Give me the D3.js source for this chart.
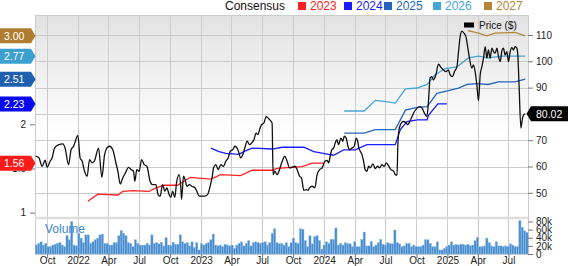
<!DOCTYPE html>
<html>
<head>
<meta charset="utf-8">
<script src="https://cdnjs.cloudflare.com/ajax/libs/d3/7.8.5/d3.min.js"></script>
<style>
  body { margin: 0; background: #fff; }
  svg text { font-family: "Liberation Sans", Arial, sans-serif; }
  .axis path.domain { display: none; }
  .axis line { stroke: #777; }
  .axis text { fill: #222; font-size: 10px; }
</style>
</head>
<body>
<div id="chart"></div>
<script>
// price, [decimal year, $]
var priceData = [
  [2021.654,63.9],[2021.681,63.3],[2021.707,60.1],[2021.732,62.4],[2021.748,59.7],[2021.772,62.0],
  [2021.789,63.3],[2021.808,67.0],[2021.843,68.3],[2021.876,68.6],[2021.894,67.0],[2021.922,60.7],
  [2021.943,66.4],[2021.963,67.7],[2021.998,71.8],[2022.016,63.3],[2022.033,62.0],[2022.052,58.2],
  [2022.073,56.3],[2022.093,62.6],[2022.114,61.4],[2022.133,62.2],[2022.166,67.0],[2022.193,55.9],
  [2022.215,64.5],[2022.233,67.0],[2022.255,67.7],[2022.282,66.4],[2022.304,62.0],[2022.323,58.2],
  [2022.342,53.4],[2022.363,55.7],[2022.385,57.6],[2022.410,59.7],[2022.431,58.8],[2022.450,58.2],
  [2022.461,54.4],[2022.477,58.8],[2022.496,58.2],[2022.516,62.6],[2022.537,60.7],[2022.559,60.1],
  [2022.585,54.4],[2022.605,53.1],[2022.632,53.1],[2022.650,49.3],[2022.667,48.7],[2022.686,53.1],
  [2022.705,50.6],[2022.721,51.9],[2022.740,49.3],[2022.754,48.3],[2022.768,50.6],[2022.786,48.3],
  [2022.800,53.8],[2022.821,56.9],[2022.835,51.9],[2022.841,47.5],[2022.857,56.3],[2022.870,55.0],
  [2022.884,52.5],[2022.903,53.1],[2022.924,52.5],[2022.949,51.9],[2022.965,50.6],[2022.984,48.7],
  [2023.003,48.7],[2023.030,48.7],[2023.052,49.3],[2023.073,52.5],[2023.093,56.9],[2023.101,59.5],
  [2023.120,60.7],[2023.138,58.8],[2023.160,60.7],[2023.182,60.1],[2023.201,62.0],[2023.220,63.3],
  [2023.237,65.8],[2023.258,66.4],[2023.274,67.7],[2023.293,67.0],[2023.307,65.2],[2023.320,63.3],
  [2023.339,64.5],[2023.355,67.0],[2023.374,69.6],[2023.394,68.3],[2023.410,68.9],[2023.429,70.2],
  [2023.447,72.7],[2023.463,72.1],[2023.475,74.0],[2023.491,75.9],[2023.510,76.5],[2023.529,79.0],
  [2023.545,78.4],[2023.564,77.4],[2023.577,76.5],[2023.585,56.9],[2023.599,58.2],[2023.618,56.9],
  [2023.637,58.8],[2023.659,62.0],[2023.681,63.9],[2023.699,62.0],[2023.719,59.5],[2023.740,59.7],
  [2023.762,60.1],[2023.781,58.8],[2023.800,56.3],[2023.816,55.7],[2023.835,50.9],[2023.854,51.2],
  [2023.870,50.9],[2023.881,51.9],[2023.903,52.5],[2023.924,51.9],[2023.943,56.9],[2023.963,58.8],
  [2023.984,59.5],[2024.006,62.0],[2024.024,62.3],[2024.037,61.4],[2024.049,63.9],[2024.063,66.4],
  [2024.077,67.0],[2024.090,68.9],[2024.103,70.2],[2024.117,68.3],[2024.136,70.8],[2024.152,69.6],
  [2024.163,71.5],[2024.179,70.8],[2024.193,67.7],[2024.207,66.4],[2024.225,67.0],[2024.244,67.7],
  [2024.260,70.8],[2024.272,69.6],[2024.282,67.0],[2024.293,65.8],[2024.307,64.5],[2024.320,62.0],
  [2024.333,58.8],[2024.347,58.2],[2024.361,60.1],[2024.374,59.5],[2024.396,61.0],[2024.415,59.2],
  [2024.434,60.1],[2024.450,59.5],[2024.469,60.7],[2024.488,60.1],[2024.504,61.4],[2024.524,60.1],
  [2024.542,58.8],[2024.564,58.2],[2024.577,56.9],[2024.591,56.7],[2024.597,67.0],[2024.605,73.3],
  [2024.618,75.9],[2024.640,77.1],[2024.659,76.9],[2024.678,75.9],[2024.694,77.1],[2024.713,79.0],
  [2024.732,80.9],[2024.754,82.2],[2024.776,82.8],[2024.794,82.2],[2024.813,80.3],[2024.833,79.0],
  [2024.846,84.7],[2024.859,93.6],[2024.873,94.2],[2024.886,92.9],[2024.906,94.8],[2024.927,98.9],
  [2024.949,97.6],[2024.968,96.7],[2024.987,96.1],[2025.008,96.7],[2025.022,94.8],[2025.041,94.2],
  [2025.057,96.1],[2025.077,98.0],[2025.090,103.7],[2025.103,109.4],[2025.117,111.5],[2025.136,110.6],
  [2025.150,109.4],[2025.166,105.0],[2025.179,101.2],[2025.198,97.4],[2025.211,98.6],[2025.225,96.1],
  [2025.239,91.0],[2025.252,85.0],[2025.266,94.8],[2025.280,98.0],[2025.293,101.2],[2025.307,105.6],
  [2025.320,101.2],[2025.333,104.3],[2025.347,101.2],[2025.361,105.0],[2025.374,103.7],[2025.388,103.1],
  [2025.402,105.0],[2025.415,101.8],[2025.429,99.9],[2025.442,103.9],[2025.455,105.0],[2025.469,102.4],
  [2025.483,103.7],[2025.496,99.9],[2025.510,103.7],[2025.524,105.2],[2025.537,104.3],[2025.550,105.6],
  [2025.564,105.0],[2025.572,102.4],[2025.583,89.8],[2025.597,74.6],[2025.610,78.4],[2025.621,79.7],
  [2025.632,80.02]
];

// consensus EPS estimates by fiscal year
var eps2023 = [[2022.079,1.13],[2022.160,1.21],[2022.323,1.20],[2022.363,1.24],[2022.445,1.25],[2022.577,1.24],
  [2022.632,1.28],[2022.699,1.31],[2022.808,1.31],[2022.911,1.40],[2023.079,1.38],[2023.160,1.43],[2023.320,1.42],
  [2023.415,1.48],[2023.577,1.48],[2023.618,1.50],[2023.821,1.52],[2023.903,1.56],[2023.998,1.56]];
var eps2024 = [[2023.079,1.73],[2023.146,1.69],[2023.201,1.67],[2023.307,1.66],[2023.347,1.69],[2023.415,1.73],
  [2023.577,1.72],[2023.659,1.74],[2023.835,1.74],[2023.916,1.69],[2024.038,1.66],[2024.077,1.65],[2024.158,1.71],
  [2024.252,1.71],[2024.347,1.77],[2024.429,1.77],[2024.577,1.77],[2024.618,1.94],[2024.672,2.03],[2024.754,2.05],
  [2024.835,2.05],[2024.846,2.10],[2024.922,2.23],[2024.995,2.23]];
var eps2025 = [[2024.163,1.90],[2024.325,1.90],[2024.415,1.94],[2024.577,1.94],[2024.659,2.16],[2024.754,2.19],
  [2024.835,2.20],[2024.914,2.35],[2025.008,2.38],[2025.090,2.41],[2025.158,2.45],[2025.239,2.46],[2025.329,2.45],
  [2025.415,2.48],[2025.550,2.48],[2025.632,2.51]];
var eps2026 = [[2024.163,2.15],[2024.325,2.15],[2024.415,2.27],[2024.488,2.26],[2024.577,2.24],[2024.659,2.40],
  [2024.754,2.41],[2024.835,2.45],[2024.900,2.56],[2024.981,2.63],[2025.077,2.65],[2025.171,2.75],[2025.252,2.77],
  [2025.333,2.75],[2025.442,2.77],[2025.632,2.77]];
var eps2027 = [[2025.166,3.06],[2025.252,3.03],[2025.320,3.00],[2025.388,3.03],[2025.550,3.04],[2025.632,3.00]];

var seriesYears = ["2023", "2024", "2025", "2026", "2027"];
var seriesColors = ["#ff2020", "#1a1aff", "#2565c0", "#45a5d5", "#b5863a"];
var flagColors = ["#ff1a1a", "#0808f0", "#1f5fb0", "#3aa0d0", "#b07d30"];
var flagValues = [1.56, 2.23, 2.51, 2.77, 3.00];
var lastPrice = 80.02;

// weekly volume, thousands of shares
var volumeStart = new Date(2021, 7, 30);
var volumes = [
  22,26,30,22,26,18,18,22,24,26,28,22,18,
  45,35,80,22,20,51,39,28,47,47,26,
  30,35,39,47,49,26,26,22,
  22,28,28,45,58,51,45,28,26,18,35,26,22,
  22,22,26,22,47,26,28,25,29,20,40,22,21,
  29,24,24,47,30,26,28,20,30,16,28,
  10,26,22,26,28,35,49,22,20,22,18,24,22,
  20,22,14,22,26,30,20,26,33,20,28,30,28,26,
  28,30,22,28,51,62,28,25,26,22,28,18,
  28,39,28,26,62,61,33,18,45,25,43,45,33,12,22,30,26,36,36,64,22,26,22,28,26,25,18,
  30,18,18,
  36,54,20,20,31,18,22,28,36,24,22,28,26,25,59,28,25,18,20,26,26,18,
  22,18,18,18,22,35,35,26,18,18,30,10,10,14,18,22,
  30,22,24,22,24,24,22,24,20,22,33,41,18,18,20,39,28,20,18,30,20,20,18,20,18,
  25,22,18,18,82,66,57,53
];

var priceTicks = [50, 60, 70, 80, 90, 100, 110];
var epsTicks = [1, 1.5, 2, 2.5, 3];
var volumeTicks = [0, 20, 40, 60, 80];

function yearToDate(t) {
    var y = Math.floor(t);
    var a = new Date(y, 0, 1), b = new Date(y + 1, 0, 1);
    return new Date(a.getTime() + (t - y) * (b - a));
}

var W = 568, H = 266;
var plot = { left: 35, right: 528, top: 15, priceBottom: 217, volTop: 217, bottom: 254 };

var svg = d3.select("#chart").append("svg")
    .attr("width", W)
    .attr("height", H);

var x = d3.scaleTime()
    .domain([new Date(2021, 7, 26), new Date(2025, 7, 28)])
    .range([plot.left, plot.right]);
var yPrice = d3.scaleLinear().domain([40.8, 117.6]).range([plot.priceBottom, plot.top]);
var yEps = d3.scaleLinear().domain([0.951, 3.236]).range([plot.priceBottom, plot.top]);
var yVol = d3.scaleLinear().domain([0, 91]).range([plot.bottom, plot.volTop]);

// background gradient
var defs = svg.append("defs");
var grad = defs.append("linearGradient").attr("id", "bg").attr("x1", 0).attr("y1", 0).attr("x2", 0).attr("y2", 1);
grad.append("stop").attr("offset", "0%").attr("stop-color", "#e2e2e2");
grad.append("stop").attr("offset", "60%").attr("stop-color", "#ffffff");
defs.append("clipPath").attr("id", "clip")
    .append("rect")
    .attr("x", plot.left).attr("y", plot.top)
    .attr("width", plot.right - plot.left).attr("height", plot.priceBottom - plot.top);

svg.append("rect")
    .attr("x", plot.left).attr("y", plot.top)
    .attr("width", plot.right - plot.left).attr("height", plot.priceBottom - plot.top)
    .attr("fill", "url(#bg)");

// grid
var monthTicks = x.ticks(d3.timeMonth.every(3));
svg.append("g").selectAll("line").data(monthTicks).enter().append("line")
    .attr("x1", function(d) { return Math.round(x(d)) + 0.5; })
    .attr("x2", function(d) { return Math.round(x(d)) + 0.5; })
    .attr("y1", plot.top).attr("y2", plot.bottom)
    .attr("stroke", "#cccccc");
svg.append("g").selectAll("line").data(priceTicks).enter().append("line")
    .attr("x1", plot.left).attr("x2", plot.right)
    .attr("y1", function(d) { return Math.round(yPrice(d)) + 0.5; })
    .attr("y2", function(d) { return Math.round(yPrice(d)) + 0.5; })
    .attr("stroke", "#cccccc");

svg.append("rect")
    .attr("x", plot.left + 0.5).attr("y", plot.top + 0.5)
    .attr("width", plot.right - plot.left).attr("height", plot.bottom - plot.top)
    .attr("fill", "none").attr("stroke", "#cccccc");
svg.append("line")
    .attr("x1", plot.left).attr("x2", plot.right)
    .attr("y1", plot.volTop + 1).attr("y2", plot.volTop + 1)
    .attr("stroke", "#dddddd").attr("stroke-width", 2.5);

// volume bars
svg.append("g").selectAll("rect").data(volumes).enter().append("rect")
    .attr("x", function(d, i) { return x(d3.timeDay.offset(volumeStart, i * 7)) - 1.1; })
    .attr("width", 2.2)
    .attr("y", function(d) { return yVol(d); })
    .attr("height", function(d) { return plot.bottom - yVol(d); })
    .attr("fill", "#4a8dcf")
    .attr("stroke", "#8fbde6")
    .attr("stroke-width", 0.4);

svg.append("text")
    .attr("x", 45).attr("y", 233)
    .attr("fill", "#3a87c8")
    .style("font-size", "12px")
    .text("Volume");

// consensus lines
var epsLine = d3.line()
    .x(function(d) { return x(yearToDate(d[0])); })
    .y(function(d) { return yEps(d[1]); });
var epsSeries = [eps2023, eps2024, eps2025, eps2026, eps2027];
var lines = svg.append("g").attr("clip-path", "url(#clip)");
epsSeries.forEach(function(s, i) {
    lines.append("path")
        .attr("d", epsLine(s))
        .attr("fill", "none")
        .attr("stroke", seriesColors[i])
        .attr("stroke-width", 1.3);
});

// price line
var priceLine = d3.line()
    .curve(d3.curveMonotoneX)
    .x(function(d) { return x(yearToDate(d[0])); })
    .y(function(d) { return yPrice(d[1]); });
lines.append("path")
    .attr("d", priceLine(priceData))
    .attr("fill", "none")
    .attr("stroke", "#111")
    .attr("stroke-width", 1.3);

// axes
var xAxis = d3.axisBottom(x)
    .tickValues(monthTicks)
    .tickSize(4)
    .tickFormat(function(d) { return d.getMonth() === 0 ? d3.timeFormat("%Y")(d) : d3.timeFormat("%b")(d); });
var gx = svg.append("g").attr("class", "axis")
    .attr("transform", "translate(0," + plot.bottom + ")")
    .call(xAxis);
gx.selectAll("text").attr("y", 3);

// labels sitting under a flag are hidden in the original, so leave them blank
svg.append("g").attr("class", "axis")
    .attr("transform", "translate(" + plot.right + ",0)")
    .call(d3.axisRight(yPrice).tickValues(priceTicks).tickSize(5).tickPadding(3)
        .tickFormat(function(d) { return d === 80 ? "" : d; }));

svg.append("g").attr("class", "axis")
    .attr("transform", "translate(" + plot.right + ",0)")
    .call(d3.axisRight(yVol).tickValues(volumeTicks).tickSize(5).tickPadding(3)
        .tickFormat(function(d) { return d === 0 ? "0" : d + "k"; }));

svg.append("g").attr("class", "axis")
    .attr("transform", "translate(" + plot.left + ",0)")
    .call(d3.axisLeft(yEps).tickValues(epsTicks).tickSize(5).tickPadding(4)
        .tickFormat(function(d) { return d > 2.2 ? "" : d3.format("~g")(d); }));

// consensus flags on the left
var flags = svg.append("g");
flagValues.forEach(function(v, i) {
    var y = yEps(v);
    flags.append("path")
        .attr("d", "M0," + (y - 7.5) + "H31L35.5," + y + "L31," + (y + 7.5) + "H0Z")
        .attr("fill", flagColors[i]);
    flags.append("text")
        .attr("x", 4).attr("y", y).attr("dy", "0.36em")
        .attr("fill", "#fff")
        .style("font-size", "10.5px")
        .text(d3.format(".2f")(v));
});

// last price flag on the right
var py = yPrice(lastPrice);
svg.append("path")
    .attr("d", "M526.5," + py + "L531," + (py - 7.5) + "H568V" + (py + 7.5) + "H531Z")
    .attr("fill", "#000");
svg.append("text")
    .attr("x", 536).attr("y", py).attr("dy", "0.36em")
    .attr("fill", "#fff")
    .style("font-size", "10.5px")
    .text(d3.format(".2f")(lastPrice));

// price legend
svg.append("rect").attr("x", 464).attr("y", 22.5).attr("width", 10).attr("height", 5).attr("fill", "#000");
svg.append("text").attr("x", 479).attr("y", 29).attr("fill", "#111").style("font-size", "10px").text("Price ($)");

// consensus legend
var legend = svg.append("g").style("font-size", "12px");
legend.append("text").attr("x", 225).attr("y", 10).attr("fill", "#111").text("Consensus");
var legendX = [298, 344, 384, 433, 484];
seriesYears.forEach(function(yr, i) {
    legend.append("rect")
        .attr("x", legendX[i]).attr("y", 2)
        .attr("width", 8).attr("height", 8)
        .attr("fill", seriesColors[i]);
    legend.append("text")
        .attr("x", legendX[i] + 12).attr("y", 10)
        .attr("fill", seriesColors[i])
        .text(yr);
});
</script>
</body>
</html>
